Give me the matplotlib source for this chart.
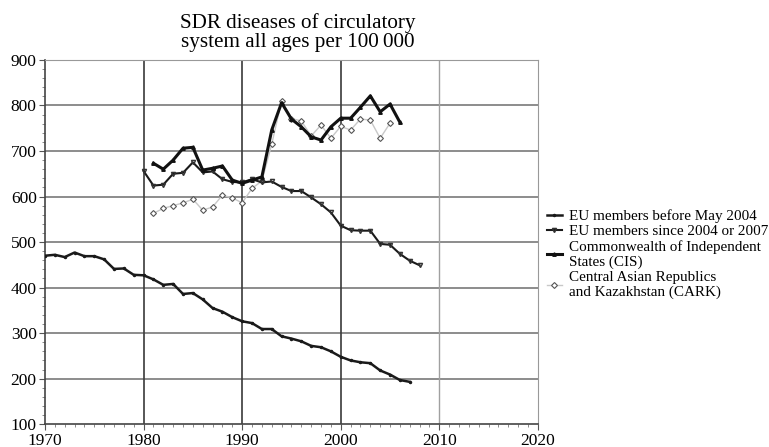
import matplotlib.pyplot as plt
import numpy as np

# years
yrs_a = list(range(1970, 2008))
yrs_b = list(range(1980, 2009))
yrs_c = list(range(1981, 2007))
yrs_d = list(range(1981, 2006))

eu_old = [470, 472, 467, 477, 469, 469, 462, 441, 442, 428,
          427, 418, 406, 408, 386, 388, 374, 355, 347, 335,
          326, 322, 309, 309, 293, 288, 282, 272, 269, 260,
          248, 240, 236, 234, 218, 209, 197, 193]
eu_new = [656, 624, 626, 650, 652, 675, 653, 655, 638, 632,
          631, 638, 631, 633, 621, 612, 612, 598, 583, 565,
          536, 526, 525, 525, 496, 494, 474, 459, 449]
cis = [673, 660, 680, 706, 708, 658, 662, 667, 636, 629,
       636, 643, 746, 806, 770, 753, 731, 724, 753, 772,
       772, 796, 821, 786, 803, 763]
cark = [563, 574, 580, 586, 594, 570, 577, 603, 597, 586,
        618, 634, 715, 810, 771, 766, 733, 757, 728, 754,
        746, 770, 768, 728, 761]

labels = ["EU members before May 2004",
          "EU members since 2004 or 2007",
          "Commonwealth of Independent\nStates (CIS)",
          "Central Asian Republics\nand Kazakhstan (CARK)"]

plt.rcParams['font.family'] = ['Liberation Serif', 'DejaVu Serif']

fig = plt.figure(figsize=(7.69, 4.47), dpi=100)
ax = fig.add_axes([0.0585, 0.051, 0.641, 0.815])

# grid
for v in range(200, 900, 100):
    ax.axhline(v, color='#8c8c8c', lw=1.4, zorder=1)
for x in [1980, 1990, 2000]:
    ax.axvline(x, color='#3a3a3a', lw=1.2, zorder=1)
ax.axvline(2010, color='#a0a0a0', lw=1.0, zorder=1)

ax.plot(yrs_d, cark, color='#c8c8c8', lw=1.0, ls='-', marker='D', ms=3,
        mfc='white', mec='#555555', mew=0.8, zorder=2, label=labels[3])
ax.plot(yrs_a, eu_old, color='#1a1a1a', lw=1.8, marker='.', ms=3,
        zorder=3, label=labels[0])
ax.plot(yrs_b, eu_new, color='#1a1a1a', lw=1.5, marker='v', ms=3,
        mfc='none', mec='#333333', zorder=3, label=labels[1])
ax.plot(yrs_c, cis, color='#111111', lw=2.2, marker='^', ms=2.5,
        zorder=4, label=labels[2])

ax.set_xlim(1970, 2020)
ax.set_ylim(100, 900)
ax.set_xticks(range(1970, 2021, 10))
ax.set_yticks(range(100, 901, 100))
ax.set_xticks(range(1970, 2021, 1), minor=True)
ax.set_yticks(range(100, 901, 20), minor=True)
ax.tick_params(axis='both', which='major', labelsize=12.5, length=4,
               color='#555555', pad=2)
ax.tick_params(axis='both', which='minor', length=2.5, color='#777777')
for s in ['top', 'right']:
    ax.spines[s].set_color('#999999')
for s in ['left', 'bottom']:
    ax.spines[s].set_color('#444444')
    ax.spines[s].set_linewidth(1.2)

fig.text(0.387, 0.97, "SDR diseases of circulatory\nsystem all ages per 100\u2009000",
         ha='center', va='top', fontsize=15.2, linespacing=1.0)

h, l = ax.get_legend_handles_labels()
order = [1, 2, 3, 0]
leg = fig.legend([h[i] for i in order], [l[i] for i in order],
                 loc='upper left', bbox_to_anchor=(0.703, 0.545),
                 frameon=False, fontsize=10.9, handlelength=1.0,
                 handletextpad=0.45, labelspacing=0.1, borderaxespad=0)

fig.savefig('out.png', dpi=100)
